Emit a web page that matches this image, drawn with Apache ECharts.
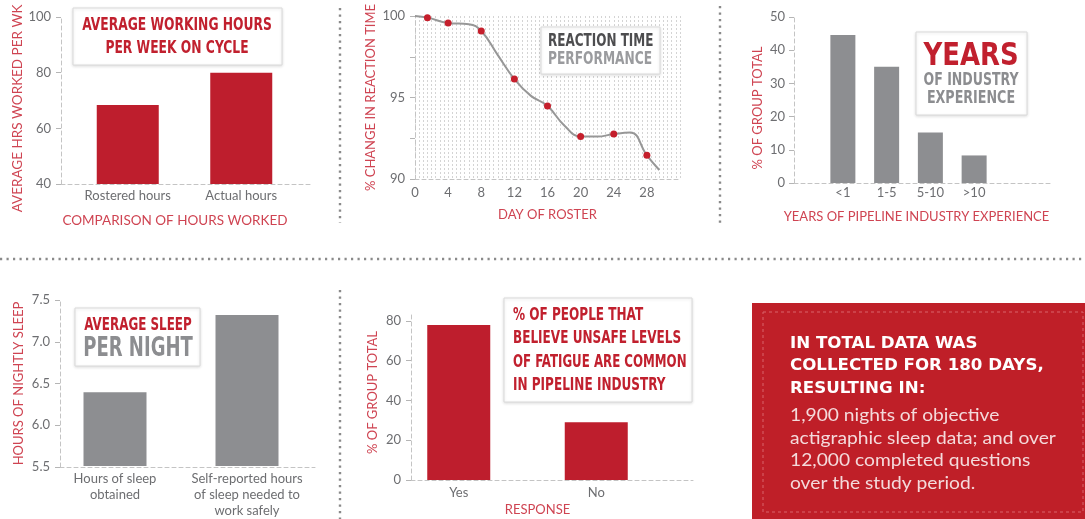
<!DOCTYPE html>
<html>
<head>
<meta charset="utf-8">
<script src="https://cdn.jsdelivr.net/npm/echarts@6/dist/echarts.min.js"></script>
<style>
  html, body { margin: 0; padding: 0; background: #ffffff; }
  #chart { width: 1085px; height: 519px; }
</style>
</head>
<body>
<div id="chart"></div>
<script>
// ---------- DATA ----------
const hoursCategories = ['Rostered hours', 'Actual hours'];
const hoursValues = [68.4, 80];

const reactionDotDays = [1.5, 4, 8, 12, 16, 20, 24, 28];
const reactionDotValues = [99.9, 99.57, 99.08, 96.13, 94.48, 92.6, 92.76, 91.45];
const reactionCurveDays = [0, 1.5, 4, 6.5, 8, 10, 12, 14, 16, 18, 20, 22, 24, 26, 28, 29.5];
const reactionCurveValues = [100, 99.9, 99.57, 99.5, 99.08, 97.6, 96.13, 95.1, 94.48, 93.3, 92.6, 92.6, 92.76, 92.85, 91.45, 90.55];
const reactionDayTicks = [0, 4, 8, 12, 16, 20, 24, 28];

const experienceCategories = ['<1', '1-5', '5-10', '>10'];
const experienceValues = [44.6, 35, 15.2, 8.3];

const sleepCategories = ['Hours of sleep\nobtained', 'Self-reported hours\nof sleep needed to\nwork safely'];
const sleepValues = [6.39, 7.32];

const responseCategories = ['Yes', 'No'];
const responseValues = [78, 29];
const responseTicks = [0, 20, 40, 60, 80];

// ---------- STYLE ----------
const RED = '#be1e2d';
const BARGRAY = '#8d8e91';
const NAMECOL = '#cf4452';
const LABCOL = '#6d6e71';
const FONT = 'Lato, "Open Sans", sans-serif';
const WIDE = '"DejaVu Sans", Lato, sans-serif';
const COND = '"DejaVu Sans Condensed", "Noto Sans", sans-serif';
const dashLine = { show: true, lineStyle: { color: '#c4c4c4', type: [4, 3], width: 1 } };
const tick = { show: true, length: 5, lineStyle: { color: '#b5b5b5' } };
const lab = (o) => Object.assign({ color: LABCOL, fontSize: 13, fontFamily: FONT }, o || {});
const nameStyle = (pad, size) => ({ color: NAMECOL, fontSize: size || 13, fontFamily: FONT, padding: pad || 0 });

function frameX(extra) {
  return Object.assign({ type: 'value', min: 0, max: 1, axisLine: dashLine, axisTick: { show: false },
    axisLabel: { show: false }, splitLine: { show: false } }, extra || {});
}
function hiddenY(min, max, idx) {
  return { type: 'value', min: min, max: max, show: false, gridIndex: idx };
}
function catX(data, idx, extra) {
  return Object.assign({ type: 'category', gridIndex: idx, data: data, axisLine: { show: false },
    axisTick: { show: false }, axisLabel: lab({ margin: 5, interval: 0 }) }, extra || {});
}

const grids = [
  { left: 61, top: 17, width: 252, height: 167 },   // 0 P1 frame
  { left: 71, top: 17, width: 227, height: 167 },   // 1 P1 bars
  { left: 415, top: 16, width: 265, height: 163 },  // 2 P2
  { left: 794, top: 17, width: 259, height: 166 },  // 3 P3 frame
  { left: 821, top: 17, width: 175, height: 166 },  // 4 P3 bars
  { left: 60, top: 300, width: 255, height: 167 },  // 5 P4 frame
  { left: 49, top: 300, width: 264, height: 167 },  // 6 P4 bars
  { left: 411, top: 313, width: 282, height: 167 }, // 7 P5 frame
  { left: 390, top: 313, width: 275, height: 167 }  // 8 P5 bars
];

const xAxes = [
  frameX({ gridIndex: 0, name: 'COMPARISON OF HOURS WORKED', nameLocation: 'middle', nameGap: 30,
    nameTextStyle: nameStyle([0, 24, 0, 0], 13.5) }),
  catX(hoursCategories, 1),
  { type: 'value', gridIndex: 2, min: 0, max: 32, interval: 4, axisLine: dashLine, axisTick: { show: false },
    axisLabel: lab({ margin: 7, customValues: reactionDayTicks }),
    splitLine: { show: true, lineStyle: { color: '#d4d4d4', type: [2, 2] } },
    minorTick: { show: false, splitNumber: 8 },
    minorSplitLine: { show: true, lineStyle: { color: '#d4d4d4', type: [2, 2] } },
    name: 'DAY OF ROSTER', nameLocation: 'middle', nameGap: 29, nameTextStyle: nameStyle([0, 0, 0, 0]) },
  frameX({ gridIndex: 3, name: 'YEARS OF PIPELINE INDUSTRY EXPERIENCE', nameLocation: 'middle', nameGap: 27,
    nameTextStyle: nameStyle([0, 14, 0, 0]) }),
  catX(experienceCategories, 4, { axisLabel: lab({ margin: 3, interval: 0 }) }),
  frameX({ gridIndex: 5 }),
  catX(sleepCategories, 6, { axisLabel: lab({ margin: 5, interval: 0, lineHeight: 16 }) }),
  frameX({ gridIndex: 7 }),
  catX(responseCategories, 8, { axisLabel: lab({ margin: 6, interval: 0 }),
    name: 'RESPONSE', nameLocation: 'middle', nameGap: 23, nameTextStyle: nameStyle([0, 0, 0, 20]) })
];

const yAxes = [
  { type: 'value', gridIndex: 0, min: 40, max: 100, interval: 20, axisLine: dashLine, axisTick: tick,
    axisLabel: lab({ margin: 10 }), splitLine: { show: false },
    name: 'AVERAGE HRS WORKED PER WK', nameLocation: 'middle', nameGap: 29, nameRotate: 90,
    nameTextStyle: nameStyle([0, 16, 0, 0], 13.5) },
  hiddenY(40, 100, 1),
  { type: 'value', gridIndex: 2, min: 90, max: 100, interval: 2.5, axisLine: dashLine, axisTick: tick,
    axisLabel: lab({ margin: 10, formatter: v => (v % 5 === 0 ? String(v) : '') }), splitLine: { show: false },
    name: '% CHANGE IN REACTION TIME', nameLocation: 'middle', nameGap: 38, nameRotate: 90,
    nameTextStyle: nameStyle() },
  { type: 'value', gridIndex: 3, min: 0, max: 50, interval: 10, axisLine: dashLine, axisTick: tick,
    axisLabel: lab({ margin: 9 }), splitLine: { show: false },
    name: '% OF GROUP TOTAL', nameLocation: 'middle', nameGap: 30, nameRotate: 90,
    nameTextStyle: nameStyle([0, 16, 0, 0]) },
  hiddenY(0, 50, 4),
  { type: 'value', gridIndex: 5, min: 5.5, max: 7.5, interval: 0.5, axisLine: dashLine, axisTick: tick,
    axisLabel: lab({ margin: 10, formatter: v => v.toFixed(1) }), splitLine: { show: false },
    name: 'HOURS OF NIGHTLY SLEEP', nameLocation: 'middle', nameGap: 35, nameRotate: 90,
    nameTextStyle: nameStyle() },
  hiddenY(5.5, 7.5, 6),
  { type: 'value', gridIndex: 7, min: 0, max: 84, interval: 20, axisLine: dashLine,
    axisTick: Object.assign({}, tick, { customValues: responseTicks }),
    axisLabel: lab({ margin: 10, customValues: responseTicks }), splitLine: { show: false },
    name: '% OF GROUP TOTAL', nameLocation: 'middle', nameGap: 32, nameRotate: 90,
    nameTextStyle: nameStyle([0, 0, 0, 8]) },
  hiddenY(0, 84, 8)
];

const series = [
  { type: 'bar', xAxisIndex: 1, yAxisIndex: 1, data: hoursValues, barWidth: 62, itemStyle: { color: RED } },
  { type: 'line', xAxisIndex: 2, yAxisIndex: 2, smooth: 0.45, symbol: 'none',
    data: reactionCurveDays.map((d, i) => [d, reactionCurveValues[i]]),
    lineStyle: { color: '#979797', width: 2 } },
  { type: 'scatter', xAxisIndex: 2, yAxisIndex: 2, symbolSize: 7, z: 5,
    data: reactionDotDays.map((d, i) => [d, reactionDotValues[i]]), itemStyle: { color: '#c51f2c', opacity: 1 } },
  { type: 'bar', xAxisIndex: 4, yAxisIndex: 4, data: experienceValues, barWidth: 25, itemStyle: { color: BARGRAY } },
  { type: 'bar', xAxisIndex: 6, yAxisIndex: 6, data: sleepValues, barWidth: 63, itemStyle: { color: BARGRAY } },
  { type: 'bar', xAxisIndex: 8, yAxisIndex: 8, data: responseValues, barWidth: 63, itemStyle: { color: RED } }
];

// ---------- DECORATION ----------
const dotted = { stroke: '#8a8a8a', lineWidth: 2.4, lineDash: [2.2, 4.3] };
function box(x, y, w, h) {
  return { type: 'rect', shape: { x: x, y: y, width: w, height: h },
    style: { fill: '#fff', stroke: '#dadada', lineWidth: 1, shadowBlur: 3, shadowColor: 'rgba(0,0,0,0.12)', shadowOffsetY: 1 }, z: 10 };
}
function txt(text, x, y, size, color, align, sx, font, weight) {
  return { type: 'text', z: 11, x: x, y: y, scaleX: sx || 1,
    style: { text: text, x: 0, y: 0, fontSize: size, fill: color,
      fontFamily: font || COND, fontWeight: weight || 'bold', textAlign: align || 'left', textVerticalAlign: 'middle' } };
}

const graphic = [
  { type: 'line', shape: { x1: 0, y1: 259, x2: 1085, y2: 259 }, style: dotted },
  { type: 'line', shape: { x1: 340, y1: 8, x2: 340, y2: 223 }, style: dotted },
  { type: 'line', shape: { x1: 720, y1: 6, x2: 720, y2: 223 }, style: dotted },
  { type: 'line', shape: { x1: 340, y1: 290, x2: 340, y2: 519 }, style: dotted },

  box(73, 8, 209, 57),
  txt('AVERAGE WORKING HOURS', 177, 25.5, 18, '#c1202e', 'center', 0.76),
  txt('PER WEEK ON CYCLE', 177, 48, 18, '#c1202e', 'center', 0.76),

  box(541, 27, 119, 47),
  txt('REACTION TIME', 548, 42, 17, '#4d4d4f', 'left', 0.785),
  txt('PERFORMANCE', 548, 60, 17, '#9a9b9e', 'left', 0.80),

  box(916, 32, 111, 83),
  txt('YEARS', 971, 57, 32, '#c1202e', 'center', 0.9),
  txt('OF INDUSTRY', 971, 81, 17, '#8c8d90', 'center', 0.82),
  txt('EXPERIENCE', 971, 99, 17, '#8c8d90', 'center', 0.83),

  box(75, 308, 125, 58),
  txt('AVERAGE SLEEP', 138, 326, 17, '#c1202e', 'center', 0.78),
  txt('PER NIGHT', 138, 349, 26, '#8c8d90', 'center', 0.77),

  box(504, 298, 188, 104),
  txt('% OF PEOPLE THAT', 513, 315, 18, '#c1202e', 'left', 0.745),
  txt('BELIEVE UNSAFE LEVELS', 513, 338.5, 18, '#c1202e', 'left', 0.745),
  txt('OF FATIGUE ARE COMMON', 513, 362, 18, '#c1202e', 'left', 0.73),
  txt('IN PIPELINE INDUSTRY', 513, 385.5, 18, '#c1202e', 'left', 0.745),

  { type: 'rect', shape: { x: 752, y: 303, width: 340, height: 220 }, style: { fill: '#bf1f28' }, z: 5 },
  { type: 'rect', shape: { x: 763, y: 312, width: 320, height: 200 },
    style: { fill: 'none', stroke: '#d9646b', lineWidth: 1, lineDash: [3, 3] }, z: 6 },
  txt('IN TOTAL DATA WAS', 790, 344, 15, '#ffffff', 'left', 1.11, WIDE, 'bold'),
  txt('COLLECTED FOR 180 DAYS,', 790, 366.5, 15, '#ffffff', 'left', 1.11, WIDE, 'bold'),
  txt('RESULTING IN:', 790, 389, 15, '#ffffff', 'left', 1.11, WIDE, 'bold'),
  txt('1,900 nights of objective', 790, 416, 17, '#f4dadb', 'left', 1.13, FONT, 'normal'),
  txt('actigraphic sleep data; and over', 790, 438.5, 17, '#f4dadb', 'left', 1.13, FONT, 'normal'),
  txt('12,000 completed questions', 790, 461, 17, '#f4dadb', 'left', 1.13, FONT, 'normal'),
  txt('over the study period.', 790, 483.5, 17, '#f4dadb', 'left', 1.13, FONT, 'normal')
];

const chart = echarts.init(document.getElementById('chart'), null, { renderer: 'canvas' });
chart.setOption({
  backgroundColor: '#ffffff',
  animation: false,
  grid: grids,
  xAxis: xAxes,
  yAxis: yAxes,
  series: series,
  graphic: graphic
});
</script>
</body>
</html>
